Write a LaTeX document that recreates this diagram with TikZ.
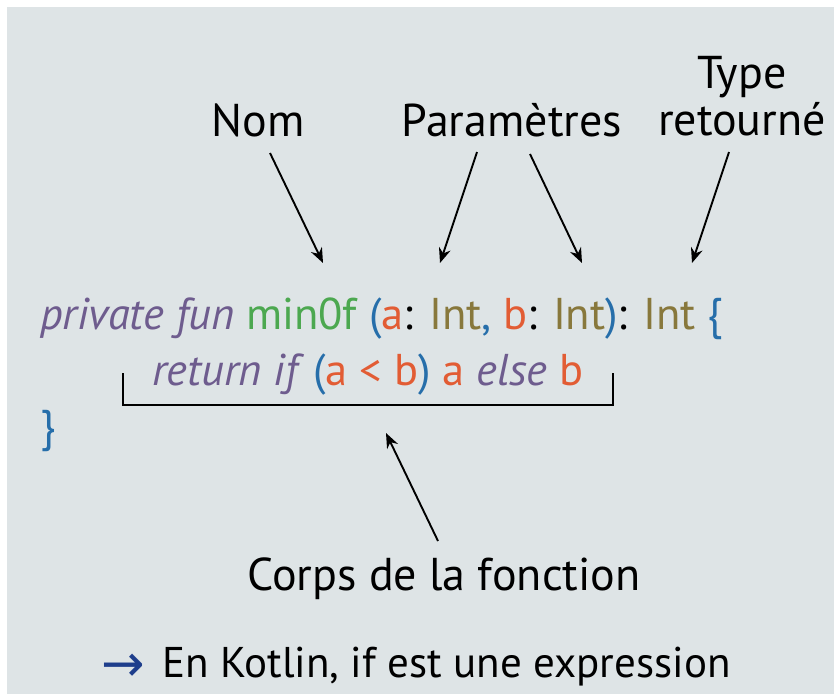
\documentclass[tikz,border=0pt]{standalone}
\usepackage{fontspec}
\setmainfont{PT Sans}
\newfontfamily\symbfont{DejaVu Sans}
\usetikzlibrary{arrows.meta}

\definecolor{fond}{RGB}{222,228,230}
\definecolor{motcle}{RGB}{110,92,142}
\definecolor{nomfct}{RGB}{76,168,80}
\definecolor{ponct}{RGB}{38,110,170}
\definecolor{param}{RGB}{226,92,52}
\definecolor{typeint}{RGB}{136,120,60}
\definecolor{fleche}{RGB}{30,62,140}

\newcommand{\kw}[1]{\textcolor{motcle}{\textit{#1}}}
\newcommand{\pc}[1]{\textcolor{ponct}{#1}}
\newcommand{\pa}[1]{\textcolor{param}{#1}}
\newcommand{\ty}[1]{\textcolor{typeint}{#1}}

\tikzset{
  legende/.style={font=\fontsize{46}{47}\selectfont, inner sep=0pt, anchor=base},
  code/.style={font=\fontsize{44.5}{46}\selectfont, inner sep=0pt, anchor=base west},
  pointer/.style={line width=1.9pt, -{Stealth[length=15pt,width=12pt]}}
}

\begin{document}
\begin{tikzpicture}[x=1pt,y=-1pt]
  \fill[white] (0,0) rectangle (834,694);
  \fill[fond] (7,7) rectangle (834,694);
  \useasboundingbox (0,0) rectangle (834,694);

  % les legendes du haut
  \node[legende] (nom) at (258,136) {Nom};
  \node[legende] (params) at (512,136) {Paramètres};
  \node[legende, align=center] (retour) at (742,135) {Type\\retourné};

  % le code
  \node[code] (ligne1) at (40,329)
    {\kw{private fun} \textcolor{nomfct}{min0f} \pc{(}\pa{a}: \ty{Int}\pc{,} \pa{b}: \ty{Int}\pc{)}: \ty{Int} \pc{\{}};
  \node[code] (ligne2) at (152,385)
    {\kw{return if}\kern-3pt{} \pc{(}\pa{a} \pa{<} \pa{b}\pc{)} \pa{a} \kw{else} \pa{b}};
  \node[code] (ligne3) at (40,441) {\pc{\}}};

  % crochet sous le corps
  \coordinate (cg) at (123,373);
  \coordinate (cd) at (613,373);
  \draw[line width=2.6pt] (cg) -- ++(0,32) -| (cd);

  \node[legende] (corps) at (444,590) {Corps de la fonction};

  % pointes des fleches
  \coordinate (nomA) at (270,153);   \coordinate (nomB) at (323,263);
  \coordinate (parA) at (477,152);   \coordinate (parB) at (440,263);
  \coordinate (parC) at (530,154);   \coordinate (parD) at (582,263);
  \coordinate (typA) at (729,152);   \coordinate (typB) at (692,263);
  \coordinate (corA) at (438,541);   \coordinate (corB) at (386,433);

  \draw[pointer] (nomA) -- (nomB);
  \draw[pointer] (parA) -- (parB);
  \draw[pointer] (parC) -- (parD);
  \draw[pointer] (typA) -- (typB);
  \draw[pointer] (corA) -- (corB);

  % remarque du bas
  \node[code, font=\fontsize{52}{52}\selectfont\symbfont, text=fleche] (puce) at (101,681) {→};
  \node[code, font=\fontsize{43}{46}\selectfont] (note) at (162,677)
    {En Kotlin, if est une expression};
\end{tikzpicture}
\end{document}
